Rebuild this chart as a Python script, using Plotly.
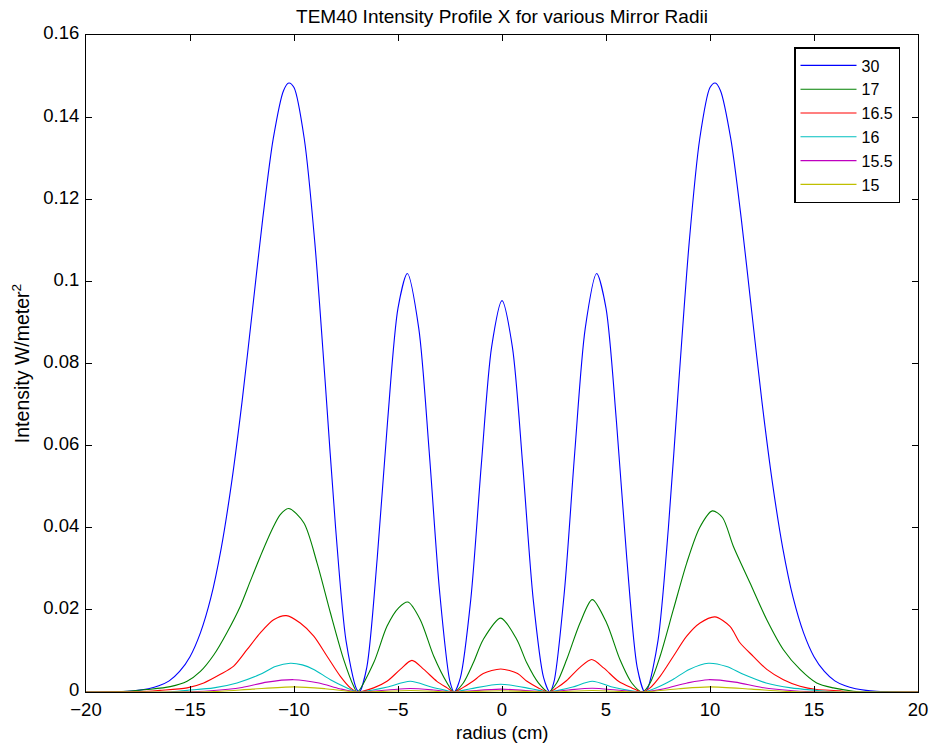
import plotly.graph_objects as go

# ---------------- data ----------------
series_names = ["30", "17", "16.5", "16", "15.5", "15"]
series_colors = ["#0000ff", "#008000", "#ff0000", "#00bfbf", "#bf00bf", "#bfbf00"]

# mirror radius 30 (blue)
x_30 = [-20, -19.5, -19, -18.5, -18, -17.5, -17, -16.5, -16, -15.5, -15, -14.5, -14, -13.5, -13,
        -12.5, -12, -11.5, -11, -10.5, -10.25, -10, -9.5, -9, -8.5, -8, -7.5, -7, -6.86, -6.5, -6,
        -5.5, -5, -4.55, -4, -3.5, -3, -2.5, -2.3, -2, -1.5, -1, -0.5, 0, 0.5, 1, 1.5, 2,
        2.3, 2.5, 3, 3.5, 4, 4.55, 5, 5.5, 6, 6.5, 6.86, 7, 7.5, 8, 8.5, 9, 9.5, 10, 10.25, 10.5,
        11, 11.5, 12, 12.5, 13, 13.5, 14, 14.5, 15, 15.5, 16, 16.5, 17, 17.5, 18, 18.5, 19,
        19.5, 20]
y_30 = [0, 0.00001, 0.00003, 0.0001, 0.0002, 0.0004, 0.0008, 0.0015, 0.0027, 0.0050, 0.0086,
        0.0144, 0.0229, 0.0350, 0.0510, 0.0706, 0.0929, 0.1154, 0.1347, 0.1465, 0.1483, 0.1472,
        0.1345, 0.1095, 0.0755, 0.0400, 0.0125, 0.0008, 0, 0.0060, 0.0325, 0.0660, 0.0935,
        0.1019, 0.0885, 0.0585, 0.0245, 0.0025, 0, 0.0035, 0.0226, 0.0550, 0.0840, 0.0953,
        0.0840, 0.0550, 0.0226, 0.0035, 0, 0.0025, 0.0245, 0.0585, 0.0885, 0.1019, 0.0935,
        0.0660, 0.0325, 0.0060, 0, 0.0008, 0.0125, 0.0400, 0.0755, 0.1095, 0.1345, 0.1472,
        0.1483, 0.1465, 0.1347, 0.1154, 0.0929, 0.0706, 0.0510, 0.0350, 0.0229, 0.0144, 0.0086,
        0.0050, 0.0027, 0.0015, 0.0008, 0.0004, 0.0002, 0.0001, 0.00003, 0.00001, 0]

# mirror radius 17 (green)
x_17 = [-20, -18, -17.07, -15.95, -15.14, -14.5, -13.86, -13.22, -12.58, -12.1, -11.62, -11.06,
        -10.66, -10.25, -9.53, -8.89, -8.25, -7.61, -7.13, -6.96, -6.17, -5.53, -4.97, -4.52,
        -3.93, -3.28, -2.64, -2.32, -1.86, -1.38, -0.9, -0.06, 0.71, 1.19, 1.75, 2.23, 2.63,
        3.11, 3.75, 4.34, 5.03, 5.67, 6.24, 6.75, 7.12, 7.6, 8.24, 8.88, 9.5, 10.11, 10.6,
        11.12, 11.92, 12.73, 13.53, 14.33, 15.13, 15.93, 16.9, 17.5, 20]
y_17 = [0, 0.0002, 0.0006, 0.0013, 0.0026, 0.0050, 0.0090, 0.0145, 0.0209, 0.0270, 0.0330,
        0.0395, 0.0432, 0.0447, 0.0412, 0.0314, 0.0193, 0.0079, 0.0014, 0, 0.0071, 0.0160,
        0.0205, 0.0219, 0.0176, 0.0087, 0.0022, 0, 0.0022, 0.0071, 0.0128, 0.0180, 0.0128,
        0.0071, 0.0022, 0, 0.0022, 0.0079, 0.0168, 0.0225, 0.0168, 0.0079, 0.0022, 0,
        0.0022, 0.0087, 0.0201, 0.0314, 0.0400, 0.0441, 0.0425, 0.0355, 0.0266, 0.0176,
        0.0103, 0.0055, 0.0022, 0.0010, 0.0002, 0, 0]

# mirror radius 16.5 (red)
x_165 = [-20, -17, -16.44, -15.14, -14.34, -13.54, -12.9, -12.26, -11.62, -10.98, -10.37, -9.7,
         -9.05, -8.41, -7.77, -7.29, -6.96, -6.17, -5.53, -4.89, -4.33, -3.76, -3.13, -2.64,
         -2.32, -1.9, -1.4, -0.9, -0.06, 0.75, 1.2, 1.75, 2.23, 2.63, 3.11, 3.75, 4.31, 4.9,
         5.6, 6.24, 6.75, 7.12, 7.6, 8.24, 8.88, 9.52, 10.24, 10.96, 11.44, 12.08, 12.73,
         13.53, 14.33, 15.13, 16.25, 16.5, 20]
y_165 = [0, 0.0002, 0.0004, 0.0010, 0.0022, 0.0043, 0.0063, 0.0103, 0.0144, 0.0176, 0.0186,
         0.0168, 0.0136, 0.0087, 0.0038, 0.0010, 0, 0.0010, 0.0026, 0.0055, 0.0077, 0.0055,
         0.0026, 0.0010, 0, 0.0010, 0.0026, 0.0045, 0.0056, 0.0045, 0.0026, 0.0010, 0,
         0.0010, 0.0028, 0.0060, 0.0079, 0.0058, 0.0026, 0.0010, 0, 0.0010, 0.0038, 0.0087,
         0.0136, 0.0168, 0.0183, 0.0160, 0.0120, 0.0087, 0.0055, 0.0030, 0.0014, 0.0006,
         0.0003, 0, 0]

# mirror radius 16 (cyan)
x_16 = [-20, -16, -15.14, -13.86, -12.74, -11.62, -10.9, -10.18, -9.6, -9.05, -8.25, -7.45,
        -6.96, -6.2, -5.5, -4.41, -3.4, -2.7, -2.32, -1.5, -0.06, 1.4, 2.23, 2.7, 3.4, 4.34,
        5.3, 6.1, 6.75, 7.4, 8.2, 9.0, 9.92, 10.8, 11.6, 12.7, 13.9, 15.1, 16, 20]
y_16 = [0, 0, 0.0004, 0.0010, 0.0022, 0.0043, 0.0062, 0.0070, 0.0066, 0.0055, 0.0030, 0.0010,
        0, 0.0005, 0.0012, 0.0026, 0.0012, 0.0004, 0, 0.0008, 0.0019, 0.0008, 0, 0.0004,
        0.0012, 0.0026, 0.0012, 0.0004, 0, 0.0010, 0.0030, 0.0055, 0.0070, 0.0062, 0.0043,
        0.0022, 0.0010, 0.0004, 0, 0]

# mirror radius 15.5 (magenta)
x_155 = [-20, -15.5, -14, -12.5, -11.3, -10.01, -8.8, -7.8, -6.96, -5.5, -4.41, -3.3, -2.32,
         -0.06, 2.23, 3.2, 4.34, 5.5, 6.75, 7.8, 8.9, 9.92, 11.2, 12.5, 14, 15.5, 20]
y_155 = [0, 0, 0.0003, 0.0011, 0.0024, 0.0030, 0.0022, 0.0008, 0, 0.0005, 0.00085, 0.0005, 0,
         0.0007, 0, 0.0005, 0.0009, 0.0005, 0, 0.0008, 0.0022, 0.0030, 0.0024, 0.0011,
         0.0003, 0, 0]

# mirror radius 15 (olive)
x_15 = [-20, -15, -13.5, -12, -10, -8.5, -6.96, -4.4, -2.32, -0.06, 2.23, 4.34, 6.75, 8.5, 10,
        12, 13.5, 15, 20]
y_15 = [0, 0, 0.0002, 0.0007, 0.00125, 0.0008, 0, 0.00035, 0, 0.0003, 0, 0.00035, 0, 0.0008,
        0.00125, 0.0007, 0.0002, 0, 0]

x_tick_vals = [-20, -15, -10, -5, 0, 5, 10, 15, 20]
y_tick_vals = [0, 0.02, 0.04, 0.06, 0.08, 0.1, 0.12, 0.14, 0.16]
y_tick_text = ["0", "0.02", "0.04", "0.06", "0.08", "0.1", "0.12", "0.14", "0.16"]

xs = [x_30, x_17, x_165, x_16, x_155, x_15]
ys = [y_30, y_17, y_165, y_16, y_155, y_15]

FONT = "Liberation Sans, Arial, Helvetica, sans-serif"

fig = go.Figure()
for name, color, xv, yv in zip(series_names, series_colors, xs, ys):
    fig.add_trace(go.Scatter(
        x=xv, y=yv, mode="lines", name=name,
        line=dict(color=color, width=1.1, shape="spline", smoothing=0.8),
    ))

axis_common = dict(
    showline=True, linecolor="black", linewidth=1, mirror="ticks",
    ticks="inside", ticklen=6, tickcolor="black", tickwidth=1,
    showgrid=False, zeroline=False, automargin=False,
    tickfont=dict(family=FONT, size=18.5, color="black"),
)

fig.update_layout(
    width=931, height=745,
    margin=dict(l=86, r=13, t=35, b=53),
    paper_bgcolor="white", plot_bgcolor="white",
    font=dict(family=FONT, color="black"),
    title=dict(text="TEM40 Intensity Profile X for various Mirror Radii",
               x=(86 + 918) / 2 / 931, xanchor="center",
               y=1 - 16 / 745, yanchor="middle",
               font=dict(family=FONT, size=19, color="black")),
    xaxis=dict(range=[-20, 20], tickvals=x_tick_vals, ticklabelstandoff=1,
               **axis_common),
    yaxis=dict(range=[0, 0.16], tickvals=y_tick_vals, ticktext=y_tick_text,
               ticklabelstandoff=2, ticklabelshift=-2,
               title=dict(text="Intensity W/meter<sup>2</sup>", font=dict(family=FONT, size=19.5),
                          standoff=8),
               **axis_common),
    annotations=[dict(text="radius (cm)", xref="paper", yref="paper",
                      x=0.5, y=-(732 - 692) / 657, xanchor="center", yanchor="middle",
                      showarrow=False, font=dict(family=FONT, size=18.5, color="black"))],
    legend=dict(x=(900 - 86) / 832, xanchor="right", y=1 - (47 - 35) / 657, yanchor="top",
                bgcolor="white", bordercolor="black", borderwidth=1.5,
                font=dict(family=FONT, size=16, color="black"),
                itemwidth=56, tracegroupgap=0),
    showlegend=True,
)

fig.write_html("out.html")
